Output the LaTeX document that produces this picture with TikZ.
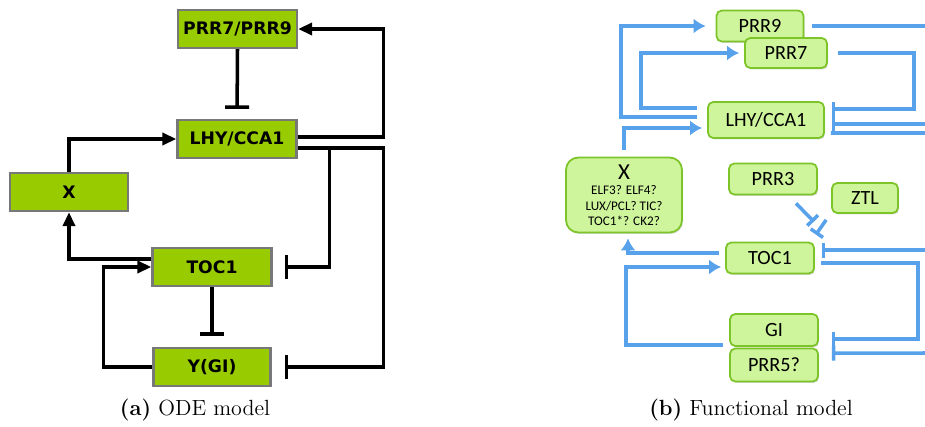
\documentclass[tikz,border=0pt]{standalone}
\usepackage{fontspec}
\newfontfamily\odefont{DejaVu Sans}
\newfontfamily\fnfont{Carlito}
\usetikzlibrary{arrows.meta,positioning,calc,shadows}
\definecolor{odegreen}{RGB}{153,204,0}
\definecolor{odegray}{RGB}{120,120,120}
\definecolor{fnfill}{RGB}{206,244,156}
\definecolor{fnedge}{RGB}{125,196,40}
\definecolor{fnblue}{RGB}{88,162,235}

\tikzset{
  odebox/.style={draw=odegray, line width=1.3pt, fill=odegreen, inner sep=0pt,
    minimum width=2.38cm, minimum height=0.76cm,
    font=\odefont\bfseries\fontsize{9.8}{11}\selectfont},
  odeact/.style={line width=2pt, -{Triangle[length=0.28cm,width=0.24cm]}},
  odeinh/.style={line width=2pt, -{Bar[width=0.48cm]}},
  fnbox/.style={draw=fnedge, line width=1pt, fill=fnfill, rounded corners=3pt, inner sep=0pt,
    minimum width=1.76cm, minimum height=0.62cm,
    font=\fnfont\fontsize{11.5}{13}\selectfont,
    drop shadow={shadow xshift=0.6pt, shadow yshift=-0.8pt, opacity=0.3}},
  fnline/.style={draw=fnblue, line width=2pt},
  fnact/.style={fnline, -{Latex[length=0.24cm,width=0.3cm]}},
  fninh/.style={fnline, -{Bar[width=0.3cm]}},
  caption/.style={font=\fontsize{12.5}{14}\selectfont}
}

\begin{document}
\begin{tikzpicture}[x=0.02cm, y=-0.02cm]
  \useasboundingbox (0,0) rectangle (925,426);

  % (a) ODE model
  \node[odebox] (prr79) at (237.5,29) {PRR7/PRR9};
  \node[odebox] (lhya) at (237,139) {LHY/CCA1};
  \node[odebox, minimum width=2.36cm] (xa) at (69,192) {X};
  \node[odebox] (toca) at (212,267) {TOC1};
  \node[odebox, minimum width=2.34cm] (ygi) at (212,367) {Y(GI)};

  \draw[odeinh, shorten >=0.2cm] (prr79.south) -- (lhya.north);
  \draw[odeact] ([yshift=0.04cm]lhya.east) -- ++(86,0) |- (prr79.east);
  \draw[odeact] (xa.north) |- (lhya.west);
  \draw[odeact] ([yshift=0.16cm]toca.west) -| (xa.south);
  \draw[odeact] (ygi.west) -- ++(-49,0) |- (toca.west);
  \draw[odeinh, shorten >=0.22cm] (toca.south) -- (ygi.north);
  \draw[odeinh, shorten >=0.24cm] ([yshift=-0.18cm]lhya.east) -- ++(32,0) |- (toca.east);
  \draw[odeinh, shorten >=0.26cm] ([yshift=-0.18cm]lhya.east) -- ++(86,0) |- (ygi.east);

  \node[caption] (capa) at (195,410) {\textbf{(a)} ODE model};

  % (b) Functional model
  \node[fnbox, minimum width=1.74cm] (prr9) at (760,26) {PRR9};
  \node[fnbox, minimum width=1.64cm, minimum height=0.6cm] (prr7) at (786,53) {PRR7};
  \node[fnbox, minimum width=2.32cm, minimum height=0.72cm] (lhyb) at (766,120) {LHY/CCA1};
  \node[fnbox, minimum width=2.32cm, minimum height=1.5cm, rounded corners=7pt, align=center,
    font=\fnfont\fontsize{7.5}{8.8}\selectfont] (xb) at (624,195)
    {{\fontsize{13}{13}\selectfont X}\\ELF3? ELF4?\\LUX/PCL? TIC?\\TOC1*? CK2?};
  \node[fnbox] (prr3) at (773,179) {PRR3};
  \node[fnbox, minimum width=1.32cm, minimum height=0.6cm] (ztl) at (865,198) {ZTL};
  \node[fnbox] (tocb) at (770,258) {TOC1};
  \node[fnbox, minimum height=0.64cm] (gi) at (774,330) {GI};
  \node[fnbox, minimum height=0.66cm] (prr5) at (774,365) {PRR5?};

  % loose ends at the right border
  \coordinate (out9) at (925,26);
  \coordinate (inlhy) at (925,124);
  \coordinate (outlhy) at (925,133);
  \coordinate (intoc) at (925,250);
  \coordinate (inprr5) at (925,353);

  \draw[fnact, shorten >=0.2cm] ([xshift=-0.2cm,yshift=0.06cm]lhyb.west) -- ++(-76,0) |- (prr9.west);
  \draw[fnact, shorten >=0.1cm] ([xshift=-0.2cm,yshift=0.24cm]lhyb.west) -- ++(-56,0) |- (prr7.west);
  \draw[fnact, shorten >=0.1cm] ([yshift=0.14cm]xb.north) |- ([yshift=-0.16cm]lhyb.west);
  \draw[fninh, shorten >=0.14cm] ([xshift=0.2cm]prr7.east) -- ++(76,0) |- ([yshift=0.22cm]lhyb.east);
  \draw[fnline] ([xshift=0.16cm]prr9.east) -- (out9);
  \draw[fninh, shorten >=0.14cm] (inlhy) -- ([yshift=-0.08cm]lhyb.east);
  \draw[fnline] ([xshift=0.12cm,yshift=-0.26cm]lhyb.east) -- (outlhy);
  \draw[fninh, shorten >=0.14cm] (intoc) -- ([yshift=0.16cm]tocb.east);
  \draw[fninh, shorten >=0.26cm] ([xshift=0.12cm,yshift=-0.1cm]tocb.east) -- ++(97,0) |- ([yshift=-0.18cm]gi.east);
  \draw[fninh, shorten >=0.26cm] (inprr5) -- ([yshift=0.24cm]prr5.east);
  \draw[fnact, shorten >=0.1cm] ([xshift=-0.12cm,yshift=0.1cm]tocb.west) -| ([xshift=0.08cm]xb.south);
  \draw[fnact, shorten >=0.08cm] ([xshift=-0.12cm,yshift=-0.3cm]gi.west) -- ++(-97,0) |- ([yshift=-0.18cm]tocb.west);
  \draw[fninh] ([shift={(0.46cm,-0.16cm)}]prr3.south) -- ([shift={(-0.02cm,0.4cm)}]tocb.north east);
  \draw[fninh] ([shift={(-0.1cm,-0.12cm)}]ztl.south west) -- ([shift={(0.02cm,0.14cm)}]tocb.north east);

  \node[caption] (capb) at (751,410) {\textbf{(b)} Functional model};
\end{tikzpicture}
\end{document}
